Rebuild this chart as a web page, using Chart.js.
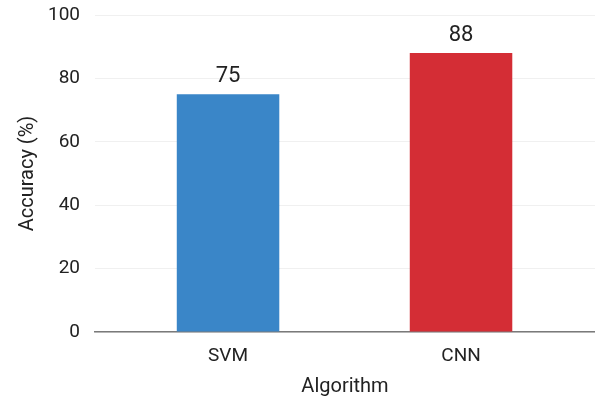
<!DOCTYPE html>
<html>
<head>
<meta charset="utf-8">
<script src="https://cdn.jsdelivr.net/npm/chart.js@4/dist/chart.umd.min.js"></script>
<style>
  html, body { margin: 0; padding: 0; background: #ffffff; }
  #wrap { width: 595px; height: 398px; }
</style>
</head>
<body>
<div id="wrap"><canvas id="chart" width="595" height="398"></canvas></div>
<script>
// Accuracy of each algorithm, in percent
const algorithms = ['SVM', 'CNN'];
const accuracy = [75, 88];
const barColors = ['#3a86c8', '#d42d35'];
const yTicks = [0, 20, 40, 60, 80, 100];

// Writes each bar's value above it
const valueLabels = {
  id: 'valueLabels',
  afterDatasetsDraw(chart) {
    const ctx = chart.ctx;
    const meta = chart.getDatasetMeta(0);
    ctx.save();
    ctx.font = '22px Roboto';
    ctx.fillStyle = '#222222';
    ctx.textAlign = 'center';
    ctx.textBaseline = 'middle';
    meta.data.forEach((bar, i) => {
      ctx.fillText(String(accuracy[i]), bar.x, bar.y - 18);
    });
    ctx.restore();
  }
};

new Chart(document.getElementById('chart'), {
  type: 'bar',
  data: {
    datasets: [{
      data: algorithms.map((name, i) => ({ x: i, y: accuracy[i] })),
      backgroundColor: barColors,
      borderWidth: 0,
      categoryPercentage: 1.0,
      barPercentage: 0.44
    }]
  },
  options: {
    responsive: false,
    animation: false,
    layout: { padding: { top: 15, right: 0, left: 0, bottom: 0 } },
    plugins: {
      legend: { display: false },
      tooltip: { enabled: false }
    },
    scales: {
      x: {
        type: 'linear',
        offset: false,
        bounds: 'ticks',
        min: -0.571,
        max: 1.575,
        afterBuildTicks(scale) {
          scale.ticks = algorithms.map((_, i) => ({ value: i }));
        },
        afterFit(scale) {
          scale.height = 66;
          scale.paddingLeft = 0;
          scale.paddingRight = 0;
        },
        ticks: {
          callback: (v) => algorithms[v],
          font: { family: 'Roboto', size: 19 },
          color: '#222222',
          padding: 5,
          maxRotation: 0
        },
        grid: { display: false, offset: false },
        border: { display: true, color: '#7a7a7a', width: 1.5 },
        title: {
          display: true,
          text: 'Algorithm',
          font: { family: 'Roboto', size: 20 },
          color: '#222222',
          padding: { top: 2, bottom: -1 }
        }
      },
      y: {
        min: 0,
        max: 100,
        afterBuildTicks(scale) {
          scale.ticks = yTicks.map(v => ({ value: v }));
        },
        afterFit(scale) {
          scale.width = 95;
          scale.paddingTop = 0;
          scale.paddingBottom = 0;
        },
        ticks: {
          font: { family: 'Roboto', size: 19 },
          color: '#222222',
          padding: 15
        },
        grid: { color: '#f0f0f0', lineWidth: 1, drawTicks: false },
        border: { display: false },
        title: {
          display: true,
          text: 'Accuracy (%)',
          font: { family: 'Roboto', size: 20 },
          color: '#222222',
          padding: { top: 16, bottom: 4 }
        }
      }
    }
  },
  plugins: [valueLabels]
});
</script>
</body>
</html>
